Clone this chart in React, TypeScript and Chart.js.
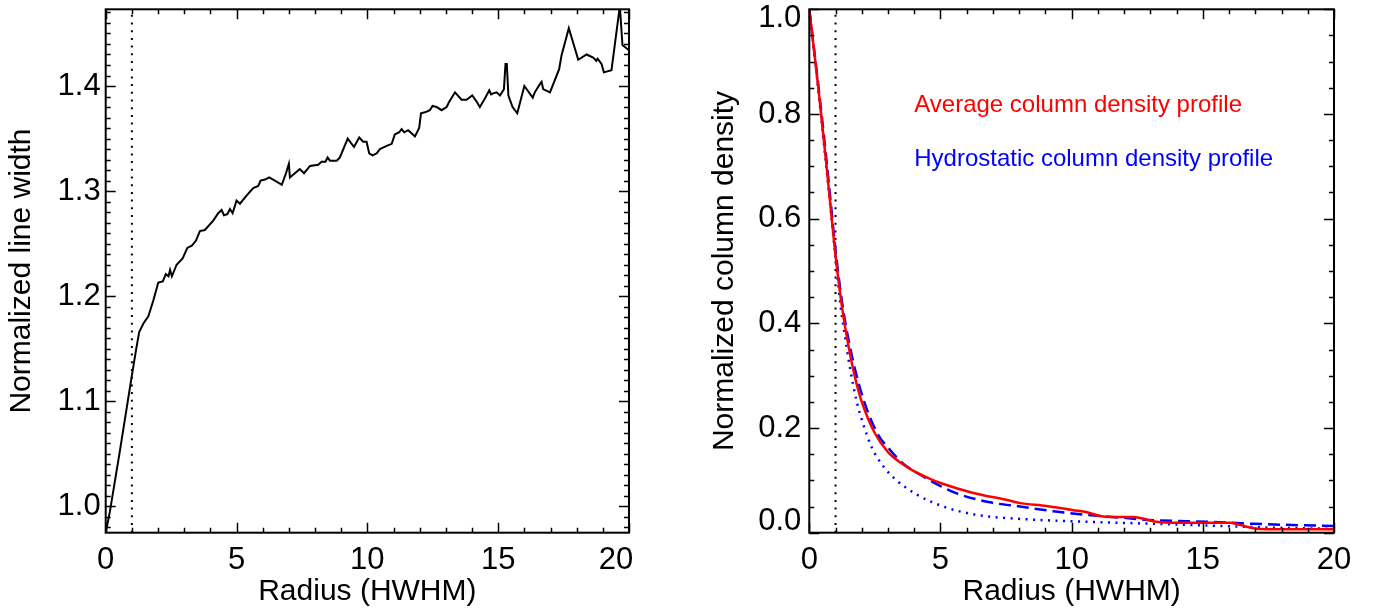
import React, { useEffect, useRef } from 'react';
import { Chart, registerables } from 'chart.js';

Chart.register(...registerables);

const FONT = "'Liberation Sans', Arial, Helvetica, sans-serif";

// ---------- Left panel: normalized line width ----------
const LW_RADIUS = [
  0.0, 0.16, 0.55, 0.99, 1.16, 1.28, 1.44, 1.63, 1.82, 2.01, 2.18, 2.3, 2.4, 2.46, 2.53, 2.71, 2.94, 3.12,
  3.29, 3.45, 3.6, 3.79, 4.11, 4.3, 4.43, 4.52, 4.65, 4.75, 4.85, 5.0, 5.13, 5.39, 5.64, 5.83, 5.92, 6.09,
  6.25, 6.53, 6.73, 6.89, 7.0, 7.04, 7.23, 7.42, 7.58, 7.81, 8.12, 8.25, 8.4, 8.48, 8.57, 8.83, 8.95, 9.25,
  9.49, 9.69, 9.84, 9.97, 10.07, 10.2, 10.36, 10.48, 10.74, 10.93, 11.05, 11.22, 11.31, 11.41, 11.56, 11.82,
  11.98, 12.05, 12.2, 12.39, 12.49, 12.65, 12.84, 13.03, 13.13, 13.35, 13.6, 13.79, 14.01, 14.18, 14.3, 14.49,
  14.66, 14.73, 14.81, 14.94, 15.07, 15.22, 15.28, 15.33, 15.39, 15.55, 15.73, 16.0, 16.32, 16.4, 16.6, 16.66,
  16.72, 16.98, 17.33, 17.42, 17.7, 18.06, 18.38, 18.63, 18.75, 18.8, 18.95, 19.04, 19.33, 19.65, 19.75, 20.0,
];
const LW_VALUE = [
  0.975, 0.995, 1.054, 1.123, 1.149, 1.166, 1.174, 1.181, 1.196, 1.213, 1.214, 1.221, 1.219, 1.225, 1.219, 1.23,
  1.236, 1.246, 1.248, 1.253, 1.262, 1.263, 1.272, 1.279, 1.282, 1.277, 1.278, 1.283, 1.279, 1.291, 1.288, 1.296,
  1.303, 1.305, 1.31, 1.311, 1.313, 1.309, 1.306, 1.317, 1.326, 1.313, 1.317, 1.321, 1.317, 1.324, 1.325, 1.328,
  1.328, 1.332, 1.329, 1.329, 1.332, 1.35, 1.342, 1.351, 1.347, 1.347, 1.336, 1.334, 1.336, 1.34, 1.343, 1.345,
  1.354, 1.356, 1.359, 1.356, 1.358, 1.352, 1.36, 1.374, 1.375, 1.377, 1.381, 1.38, 1.377, 1.38, 1.385, 1.394,
  1.387, 1.387, 1.391, 1.385, 1.38, 1.388, 1.396, 1.392, 1.393, 1.394, 1.391, 1.397, 1.421, 1.421, 1.391, 1.38,
  1.374, 1.4, 1.389, 1.394, 1.402, 1.404, 1.397, 1.394, 1.416, 1.429, 1.455, 1.425, 1.43, 1.427, 1.424, 1.426,
  1.421, 1.413, 1.415, 1.476, 1.439, 1.434,
];
const LEFT_X_TICKS = [0, 5, 10, 15, 20];
const LEFT_Y_TICKS = [1.0, 1.1, 1.2, 1.3, 1.4];
const LEFT_Y_MIN = 0.975;
const LEFT_Y_MAX = 1.473;

// ---------- Right panel: normalized column density ----------
const AVG_RADIUS = [
  0, 0.34, 0.66, 1.0, 1.25, 1.5, 1.75, 2.0, 2.5, 3.0, 3.5, 4.0, 4.6, 5.0, 6.25, 7.5, 8.0, 9.05,
  10.06, 10.5, 11.08, 11.5, 12.35, 12.7, 13.24, 14.0, 16.03, 16.4, 16.92, 17.5, 20,
];
const AVG_VALUE = [
  1.0, 0.852, 0.699, 0.53, 0.43, 0.355, 0.295, 0.25, 0.19, 0.154, 0.133, 0.117, 0.103, 0.095, 0.076, 0.063,
  0.057, 0.051, 0.043, 0.04, 0.032, 0.03, 0.03, 0.027, 0.021, 0.019, 0.019, 0.015, 0.0084, 0.0065, 0.0065,
];
const HYD_RADIUS = [
  0, 0.25, 0.5, 0.75, 1.0, 1.25, 1.55, 2.0, 2.57, 3.08, 3.58, 4.35, 5.0, 5.62, 6.89, 8.03, 9.3, 10.57, 11.84,
  13.11, 14.38, 15.65, 16.92, 18.19, 20,
];
const HYD_VALUE = [
  1.0, 0.895, 0.785, 0.665, 0.54, 0.44, 0.355, 0.265, 0.192, 0.158, 0.132, 0.107, 0.089, 0.075, 0.058, 0.05,
  0.041, 0.034, 0.029, 0.024, 0.022, 0.02, 0.017, 0.015, 0.013,
];
const DOT_RADIUS = [
  0, 0.25, 0.5, 0.75, 1.0, 1.2, 1.36, 1.55, 1.81, 2.06, 2.38, 2.82, 3.33, 4.09, 5.11, 6.38, 8.16, 10.57, 13.11,
  15.65, 18.19, 20,
];
const DOT_VALUE = [
  1.0, 0.89, 0.77, 0.65, 0.525, 0.43, 0.375, 0.315, 0.25, 0.207, 0.163, 0.127, 0.1, 0.073, 0.05, 0.034, 0.026,
  0.021, 0.017, 0.013, 0.009, 0.0075,
];
const RIGHT_X_TICKS = [0, 5, 10, 15, 20];
const RIGHT_Y_TICKS = [0.0, 0.2, 0.4, 0.6, 0.8, 1.0];
const MARKER_RADIUS = 1;
const LEGEND_LABELS = ['Average column density profile', 'Hydrostatic column density profile'];
const LEGEND_COLORS = ['#ff0000', '#0000ff'];

const toPoints = (xs: number[], ys: number[]) => xs.map((x, i) => ({ x, y: ys[i] }));

function framePlugin(cfg: {
  xMinor: number; xMajor: number; yMinor: number; yMajor: number;
  legend?: { labels: string[]; colors: string[] };
}) {
  return {
    id: 'idlFrame',
    afterDatasetsDraw(chart: any) {
      const { ctx, chartArea: a, scales } = chart;
      ctx.save();
      ctx.strokeStyle = '#000';
      ctx.lineWidth = 1.5;
      const drawTicks = (scale: any, minor: number, major: number, horizontal: boolean) => {
        const start = Math.ceil(scale.min / minor - 1e-6);
        const end = Math.floor(scale.max / minor + 1e-6);
        for (let i = start; i <= end; i++) {
          const v = i * minor;
          const isMajor = Math.abs(v / major - Math.round(v / major)) < 1e-6;
          const len = isMajor ? 10 : 5;
          const p = Math.round(scale.getPixelForValue(v)) + 0.5;
          ctx.beginPath();
          if (horizontal) {
            ctx.moveTo(p, a.bottom); ctx.lineTo(p, a.bottom - len);
            ctx.moveTo(p, a.top); ctx.lineTo(p, a.top + len);
          } else {
            ctx.moveTo(a.left, p); ctx.lineTo(a.left + len, p);
            ctx.moveTo(a.right, p); ctx.lineTo(a.right - len, p);
          }
          ctx.stroke();
        }
      };
      drawTicks(scales.x, cfg.xMinor, cfg.xMajor, true);
      drawTicks(scales.y, cfg.yMinor, cfg.yMajor, false);
      ctx.lineWidth = 2;
      ctx.strokeRect(a.left, a.top, a.right - a.left, a.bottom - a.top);
      if (cfg.legend) {
        ctx.font = `24px ${FONT}`;
        ctx.textAlign = 'left';
        ctx.textBaseline = 'middle';
        const lx = scales.x.getPixelForValue(4.0);
        cfg.legend.labels.forEach((t, i) => {
          ctx.fillStyle = cfg.legend!.colors[i];
          ctx.fillText(t, lx, a.top + 96 + i * 54);
        });
      }
      ctx.restore();
    },
  };
}

function axisX(ticks: number[], labelFn: (v: number) => any) {
  return {
    type: 'linear' as const,
    min: 0,
    max: 20,
    grid: { display: false, drawTicks: false },
    border: { display: false },
    afterBuildTicks: (s: any) => { s.ticks = ticks.map((value) => ({ value })); },
    afterFit: (s: any) => { s.height = 79.3; s.paddingLeft = 0; s.paddingRight = 0; },
    ticks: {
      padding: 9, color: '#000', font: { family: FONT, size: 31 }, maxRotation: 0, minRotation: 0,
      autoSkip: false, callback: (v: any) => labelFn(Number(v)),
    },
    title: {
      display: true, text: 'Radius (HWHM)', color: '#000', font: { family: FONT, size: 30 },
      padding: { top: 2.7, bottom: 2.7 },
    },
  };
}

export default function App() {
  const leftRef = useRef<HTMLCanvasElement>(null);
  const rightRef = useRef<HTMLCanvasElement>(null);

  useEffect(() => {
    const left = new Chart(leftRef.current!, {
      type: 'line',
      data: {
        datasets: [
          {
            data: toPoints(LW_RADIUS, LW_VALUE), borderColor: '#000', borderWidth: 2,
            pointRadius: 0, tension: 0, fill: false,
          },
          {
            data: [{ x: MARKER_RADIUS, y: LEFT_Y_MIN }, { x: MARKER_RADIUS, y: LEFT_Y_MAX }],
            borderColor: '#000', borderWidth: 2, borderDash: [2, 5.7], pointRadius: 0, fill: false,
          },
        ],
      },
      options: {
        animation: false, responsive: false, devicePixelRatio: 1,
        layout: { padding: { top: 9.3, right: 59, bottom: 0, left: 0 } },
        plugins: { legend: { display: false }, tooltip: { enabled: false } },
        scales: {
          x: axisX(LEFT_X_TICKS, (v) => (v === 20 ? '20   ' : String(v))),
          y: {
            type: 'linear', min: LEFT_Y_MIN, max: LEFT_Y_MAX,
            grid: { display: false, drawTicks: false }, border: { display: false },
            afterBuildTicks: (s: any) => { s.ticks = LEFT_Y_TICKS.map((value) => ({ value })); },
            afterFit: (s: any) => { s.width = 105.7; s.paddingTop = 0; s.paddingBottom = 0; },
            ticks: {
              padding: 5, color: '#000', font: { family: FONT, size: 31 },
              callback: (v: any) => Number(v).toFixed(1),
            },
            title: {
              display: true, text: 'Normalized line width', color: '#000',
              font: { family: FONT, size: 30 }, padding: { top: 3.4, bottom: 0 },
            },
          },
        },
      } as any,
      plugins: [framePlugin({ xMinor: 1, xMajor: 5, yMinor: 0.01, yMajor: 0.1 })],
    });

    const right = new Chart(rightRef.current!, {
      type: 'line',
      data: {
        datasets: [
          {
            data: toPoints(AVG_RADIUS, AVG_VALUE), borderColor: '#ff0000', borderWidth: 2.5,
            pointRadius: 0, cubicInterpolationMode: 'monotone', fill: false,
          },
          {
            data: toPoints(HYD_RADIUS, HYD_VALUE), borderColor: '#0000ff', borderWidth: 2.5,
            borderDash: [12, 6], pointRadius: 0, cubicInterpolationMode: 'monotone', fill: false,
          },
          {
            data: toPoints(DOT_RADIUS, DOT_VALUE), borderColor: '#0000ff', borderWidth: 2.5,
            borderDash: [2, 5.5], pointRadius: 0, cubicInterpolationMode: 'monotone', fill: false,
          },
          {
            data: [{ x: MARKER_RADIUS, y: 0 }, { x: MARKER_RADIUS, y: 1 }],
            borderColor: '#000', borderWidth: 2, borderDash: [2, 5.7], pointRadius: 0, fill: false,
          },
        ],
      },
      options: {
        animation: false, responsive: false, devicePixelRatio: 1,
        layout: { padding: { top: 9.3, right: 42, bottom: 0, left: 0 } },
        plugins: { legend: { display: false }, tooltip: { enabled: false } },
        scales: {
          x: axisX(RIGHT_X_TICKS, (v) => String(v)),
          y: {
            type: 'linear', min: 0, max: 1,
            grid: { display: false, drawTicks: false }, border: { display: false },
            afterBuildTicks: (s: any) => { s.ticks = RIGHT_Y_TICKS.map((value) => ({ value })); },
            afterFit: (s: any) => { s.width = 121.3; s.paddingTop = 0; s.paddingBottom = 0; },
            ticks: {
              padding: 8, color: '#000',
              font: (c: any) => {
                const v = c.tick ? c.tick.value : 0.5;
                return { family: FONT, size: 31, lineHeight: v === 1 ? 0.62 : v === 0 ? 0.71 : 1.2 };
              },
              callback: (v: any) => {
                const n = Number(v);
                if (n === 1) return ['', '1.0'];
                if (n === 0) return ['0.0', ''];
                return n.toFixed(1);
              },
            },
            title: {
              display: true, text: 'Normalized column density', color: '#000',
              font: { family: FONT, size: 30 }, padding: { top: 18.6, bottom: 0 },
            },
          },
        },
      } as any,
      plugins: [framePlugin({
        xMinor: 1, xMajor: 5, yMinor: 0.05, yMajor: 0.2,
        legend: { labels: LEGEND_LABELS, colors: LEGEND_COLORS },
      })],
    });

    return () => { left.destroy(); right.destroy(); };
  }, []);

  return (
    <div style={{ position: 'fixed', left: 0, top: 0, width: 1376, height: 612, background: '#fff' }}>
      <canvas ref={leftRef} width={688} height={612} style={{ position: 'absolute', left: 0, top: 0 }} />
      <canvas ref={rightRef} width={688} height={612} style={{ position: 'absolute', left: 688, top: 0 }} />
    </div>
  );
}
